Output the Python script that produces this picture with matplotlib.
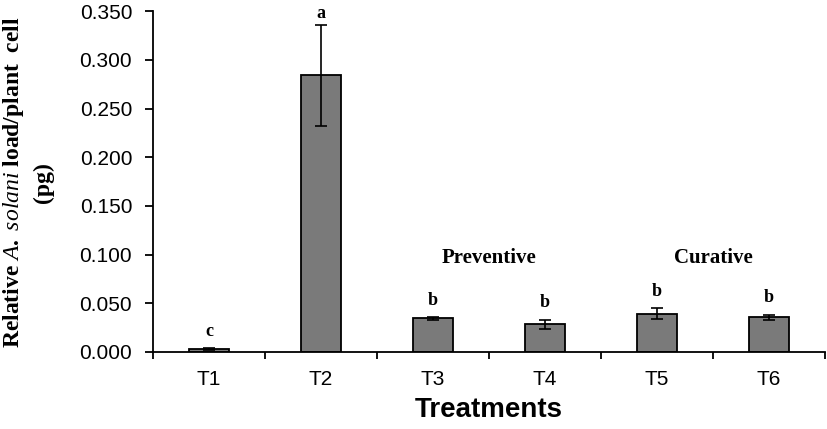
import numpy as np
import matplotlib
matplotlib.use("Agg")
import matplotlib.pyplot as plt

# values
treatments = ["T1", "T2", "T3", "T4", "T5", "T6"]
load_pg = [0.003, 0.284, 0.0345, 0.0285, 0.0395, 0.0355]
load_err = [0.0008, 0.052, 0.0015, 0.0048, 0.0055, 0.0028]
letters = ["c", "a", "b", "b", "b", "b"]
group_names = ["Preventive", "Curative"]
group_x = [3.5, 5.5]
group_y = [0.097, 0.097]
yticks = [0.0, 0.05, 0.1, 0.15, 0.2, 0.25, 0.3, 0.35]

plt.rcParams['mathtext.fontset'] = 'custom'
plt.rcParams['mathtext.it'] = 'Liberation Serif:italic'
plt.rcParams['mathtext.rm'] = 'Liberation Serif:bold'

fig = plt.figure(figsize=(8.27, 4.29), dpi=100)
ax = fig.add_axes([0.185, 0.1795, 0.8126, 0.7945])

x = np.arange(1, len(treatments) + 1)
ax.bar(x, load_pg, width=0.36, color="#7a7a7a", edgecolor="black", linewidth=1.3,
       yerr=load_err, error_kw=dict(ecolor="black", elinewidth=1.2, capsize=4, capthick=1.2))

for xi, v, e, lab in zip(x, load_pg, load_err, letters):
    off = 2 if lab == "a" else 6
    ax.annotate(lab, (xi, v + e), xytext=(0, off), textcoords="offset points",
                ha="center", va="bottom", fontsize=13, fontweight="bold",
                family="Liberation Serif", annotation_clip=False)

for name, gx, gy in zip(group_names, group_x, group_y):
    ax.text(gx, gy, name, ha="center", va="center", fontsize=15, fontweight="bold",
            family="Liberation Serif")

ax.set_xlim(0.5, 6.5)
ax.set_ylim(0, 0.35)
ax.set_yticks(yticks)
ax.set_yticklabels([f"{t:.3f}" for t in yticks], family="Liberation Sans", fontsize=15)
ax.tick_params(axis="y", direction="out", length=6, width=1.3, pad=9)

# boundary ticks without labels, labels at category centres
ax.set_xticks(np.arange(0.5, 7.0, 1.0))
ax.set_xticklabels([])
ax.tick_params(axis="x", which="major", direction="out", length=5, width=1.3)
ax.set_xticks(x, minor=True)
ax.set_xticklabels(treatments, minor=True, family="Liberation Sans", fontsize=15)
ax.tick_params(axis="x", which="minor", length=0, pad=13)

ax.spines["top"].set_visible(False)
ax.spines["right"].set_visible(False)
ax.spines["left"].set_linewidth(1.3)
ax.spines["bottom"].set_linewidth(1.3)

ax.set_xlabel("Treatments", family="Liberation Sans", fontsize=20, fontweight="bold", labelpad=6)
fig.text(0.016, 0.575, r"Relative $A.\ solani$ load/plant  cell", rotation=90,
         ha="center", va="center", fontsize=17, fontweight="bold", family="Liberation Serif")
fig.text(0.053, 0.575, "(pg)", rotation=90, ha="center", va="center",
         fontsize=17, fontweight="bold", family="Liberation Serif")

fig.savefig("out.png", dpi=100)
